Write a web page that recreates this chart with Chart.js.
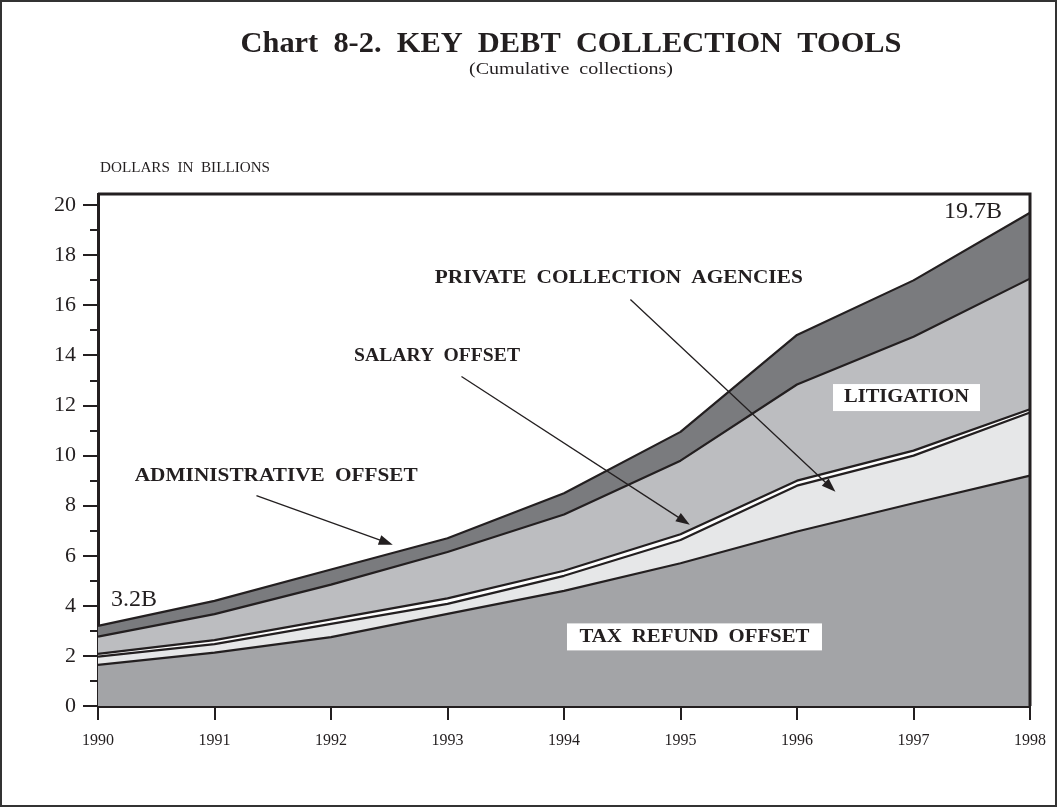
<!DOCTYPE html>
<html>
<head>
<meta charset="utf-8">
<script src="https://cdn.jsdelivr.net/npm/chart.js@4.4.1/dist/chart.umd.min.js"></script>
<style>
html,body{margin:0;padding:0;background:#fff;}
#wrap{width:1057px;height:807px;position:relative;}
canvas{display:block;}
</style>
</head>
<body>
<div id="wrap"><canvas id="c" width="1057" height="807"></canvas></div>
<script>
// ---- Data (dollars in billions, per-tool amounts; stacked cumulatively) ----
const years = ['1990','1991','1992','1993','1994','1995','1996','1997','1998'];
const taxRefundOffset           = [1.64, 2.13, 2.75, 3.68, 4.60, 5.70, 6.97, 8.10, 9.20];
const privateCollectionAgencies = [0.33, 0.34, 0.53, 0.40, 0.60, 0.93, 1.83, 1.90, 2.52];
const salaryOffset              = [0.11, 0.16, 0.18, 0.22, 0.20, 0.23, 0.20, 0.20, 0.13];
const litigation                = [0.69, 1.04, 1.39, 1.85, 2.25, 2.94, 3.84, 4.55, 5.22];
const administrativeOffset      = [0.43, 0.53, 0.60, 0.55, 0.85, 1.15, 1.98, 2.25, 2.63];
const yTickValues = [0,1,2,3,4,5,6,7,8,9,10,11,12,13,14,15,16,17,18,19,20];
const yLabelValues = [0,2,4,6,8,10,12,14,16,18,20];
const startTotalLabel = '3.2B';
const endTotalLabel = '19.7B';

const SERIF = '"Liberation Serif", "Times New Roman", Times, serif';
const INK = '#231f20';

// text helper: words separated by a wide gap, whole line stretched horizontally to a width
function drawSpread(ctx, text, cx, cy, font, width, gapFactor) {
  ctx.save();
  ctx.font = font;
  ctx.textBaseline = 'middle';
  ctx.textAlign = 'left';
  const words = text.split(' ');
  const ws = words.map(w => ctx.measureText(w).width);
  const gap = ctx.measureText(' ').width * (gapFactor || 2);
  const natural = ws.reduce((a,b)=>a+b,0) + gap*(words.length-1);
  const k = width ? width / natural : 1;
  ctx.translate(cx - natural*k/2, cy);
  ctx.scale(k, 1);
  let x = 0;
  words.forEach((w,i)=>{ ctx.fillText(w, x, 0); x += ws[i] + gap; });
  ctx.restore();
}

function arrow(ctx, x1, y1, x2, y2) {
  const ang = Math.atan2(y2-y1, x2-x1);
  const L = 14, W = 5;
  ctx.save();
  ctx.strokeStyle = INK; ctx.fillStyle = INK; ctx.lineWidth = 1.3;
  ctx.beginPath(); ctx.moveTo(x1,y1);
  ctx.lineTo(x2 - Math.cos(ang)*L*0.8, y2 - Math.sin(ang)*L*0.8); ctx.stroke();
  ctx.beginPath();
  ctx.moveTo(x2,y2);
  ctx.lineTo(x2 - L*Math.cos(ang) + W*Math.sin(ang), y2 - L*Math.sin(ang) - W*Math.cos(ang));
  ctx.lineTo(x2 - L*Math.cos(ang) - W*Math.sin(ang), y2 - L*Math.sin(ang) + W*Math.cos(ang));
  ctx.closePath(); ctx.fill();
  ctx.restore();
}

// annotation placements in data coordinates (x = year index, y = billions)
const callouts = [
  {text:'ADMINISTRATIVE OFFSET', at:[1.53, 9.2], w:283, from:[1.36, 8.4], to:[2.53, 6.44]},
  {text:'SALARY OFFSET', at:[2.91, 13.96], w:166, from:[3.12, 13.16], to:[5.08, 7.24]},
  {text:'PRIVATE COLLECTION AGENCIES', at:[4.47, 17.08], w:368, from:[4.57, 16.24], to:[6.33, 8.56]}
];
const boxed = [
  {text:'LITIGATION', at:[6.94, 12.32], w:125, boxW:147, boxH:27},
  {text:'TAX REFUND OFFSET', at:[5.12, 2.76], w:230, boxW:255, boxH:27}
];

const decor = {
  id: 'decor',
  afterDraw(chart) {
    const ctx = chart.ctx;
    const xs = chart.scales.x, ys = chart.scales.y;
    const a = chart.chartArea;
    ctx.save();
    // plot frame (top & right)
    ctx.strokeStyle = INK; ctx.lineWidth = 3;
    ctx.beginPath();
    ctx.moveTo(a.left, a.top); ctx.lineTo(a.right, a.top); ctx.lineTo(a.right, a.bottom);
    ctx.stroke();
    // y ticks (major at labelled values, minor otherwise)
    ctx.lineWidth = 2;
    yTickValues.forEach(v => {
      const y = Math.round(ys.getPixelForValue(v));
      const len = yLabelValues.includes(v) ? 15 : 8;
      ctx.beginPath(); ctx.moveTo(a.left - len, y); ctx.lineTo(a.left, y); ctx.stroke();
    });
    // titles
    ctx.fillStyle = INK;
    drawSpread(ctx, 'Chart 8-2. KEY DEBT COLLECTION TOOLS', 571, 45, 'bold 29px ' + SERIF, 661, 2);
    drawSpread(ctx, '(Cumulative collections)', 571, 70, '17px ' + SERIF, 204, 2);
    drawSpread(ctx, 'DOLLARS IN BILLIONS', 185, 168, '14px ' + SERIF, 170, 2);
    // totals
    ctx.font = '24px ' + SERIF; ctx.textBaseline = 'middle'; ctx.textAlign = 'center';
    ctx.fillText(startTotalLabel, xs.getPixelForValue(0.31), ys.getPixelForValue(4.24));
    ctx.fillText(endTotalLabel, xs.getPixelForValue(7.51), ys.getPixelForValue(19.76));
    // callouts with arrows
    callouts.forEach(c => {
      drawSpread(ctx, c.text, xs.getPixelForValue(c.at[0]), ys.getPixelForValue(c.at[1]), 'bold 19px ' + SERIF, c.w, 1.9);
      arrow(ctx, xs.getPixelForValue(c.from[0]), ys.getPixelForValue(c.from[1]),
                 xs.getPixelForValue(c.to[0]), ys.getPixelForValue(c.to[1]));
    });
    boxed.forEach(b => {
      const cx = xs.getPixelForValue(b.at[0]), cy = ys.getPixelForValue(b.at[1]);
      ctx.fillStyle = '#ffffff';
      ctx.fillRect(cx - b.boxW/2, cy - b.boxH/2, b.boxW, b.boxH);
      ctx.fillStyle = INK;
      drawSpread(ctx, b.text, cx, cy, 'bold 19px ' + SERIF, b.w, 1.9);
    });
    // outer page frame
    ctx.strokeStyle = '#333'; ctx.lineWidth = 2;
    ctx.strokeRect(1, 1, chart.width - 2, chart.height - 2);
    ctx.restore();
  }
};

function layer(label, data, color, fill) {
  return {
    label, data, fill,
    backgroundColor: color,
    borderColor: INK,
    borderWidth: 2.2,
    pointRadius: 0,
    tension: 0
  };
}

new Chart(document.getElementById('c'), {
  type: 'line',
  data: {
    labels: years,
    datasets: [
      layer('Tax refund offset', taxRefundOffset, '#a3a4a7', 'origin'),
      layer('Private collection agencies', privateCollectionAgencies, '#e6e7e8', '-1'),
      layer('Salary offset', salaryOffset, '#ffffff', '-1'),
      layer('Litigation', litigation, '#bcbdc0', '-1'),
      layer('Administrative offset', administrativeOffset, '#7a7b7e', '-1')
    ]
  },
  options: {
    responsive: false,
    animation: false,
    devicePixelRatio: 1,
    layout: { padding: { left: 0, right: 26, top: 194, bottom: 61 } },
    plugins: { legend: { display: false }, tooltip: { enabled: false }, title: { display: false } },
    elements: { line: { borderJoinStyle: 'round' } },
    scales: {
      x: {
        type: 'category',
        offset: false,
        afterFit: s => { s.height = 40; },
        grid: { display: true, drawOnChartArea: false, drawTicks: true, tickLength: 14, lineWidth: 2, color: INK },
        border: { display: true, width: 3, color: INK },
        ticks: { color: INK, font: { family: SERIF, size: 16 }, padding: 11, maxRotation: 0, autoSkip: false }
      },
      y: {
        stacked: true,
        min: 0,
        max: 20.45,
        afterFit: s => { s.width = 98; },
        afterBuildTicks: s => { s.ticks = yTickValues.map(v => ({ value: v })); },
        grid: { display: false, drawTicks: false },
        border: { display: true, width: 3, color: INK },
        ticks: {
          color: INK, font: { family: SERIF, size: 22 }, padding: 22,
          callback: v => yLabelValues.includes(v) ? String(v) : ''
        }
      }
    }
  },
  plugins: [decor]
});
</script>
</body>
</html>
